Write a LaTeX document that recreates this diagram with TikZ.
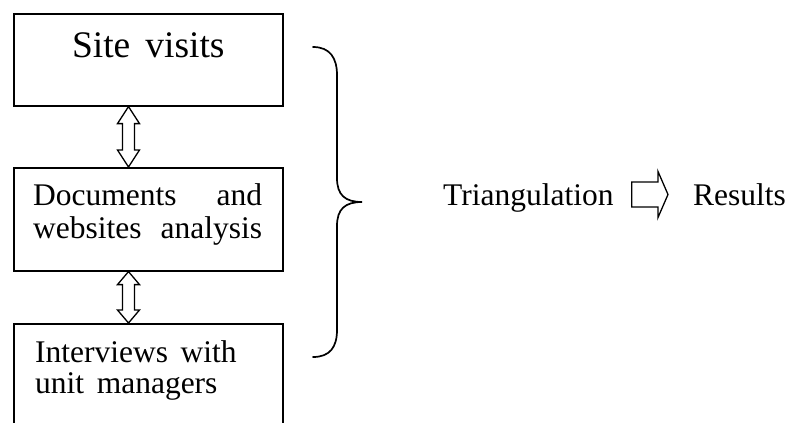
\documentclass[tikz,border=0pt]{standalone}
\usepackage{fontspec}
\setmainfont{Liberation Serif}
\usetikzlibrary{calc}

% wider interword spacing used in the box texts
\newcommand\widesp{\spaceskip=0.4em\relax}

% hollow double-headed vertical arrow: #1 upper tip, #2 lower tip, #3 head length
\newcommand\vdoublearrow[3]{%
  \draw[hollow] (#1) -- ($(#1)+(11,#3)$) -- ($(#1)+(6,#3)$)
    -- ($(#2)+(6,-#3)$) -- ($(#2)+(11,-#3)$) -- (#2)
    -- ($(#2)+(-11,-#3)$) -- ($(#2)+(-6,-#3)$)
    -- ($(#1)+(-6,#3)$) -- ($(#1)+(-11,#3)$) -- cycle;}

\begin{document}
\begin{tikzpicture}[x=1pt,y=-1pt,
  box/.style={draw, line width=1.6pt, minimum width=269pt, minimum height=#1,
    inner sep=0pt, anchor=north west},
  body/.style={font=\fontsize{31.5}{33}\selectfont, inner sep=0pt, anchor=base west},
  big/.style={font=\fontsize{37.5}{40}\selectfont, inner sep=0pt, anchor=base},
  hollow/.style={draw, line width=1.3pt, line join=miter, fill=white},
  bracepath/.style={draw, line width=1.7pt, line cap=round}]
\useasboundingbox (0,0) rectangle (790,423);
\clip (0,0) rectangle (790,423);

% three stacked boxes
\node[box=92pt]  (site) at (13,13)  {};
\node[box=103pt] (docs) at (13,167) {};
\node[box=130pt] (intv) at (13,323) {};

% box texts
\node[big] (sitet) at ($(site.north)+(0,44)$) {\widesp Site visits};
\node[body] (doct) at ($(docs.north west)+(20,38)$)
  {\parbox[t]{229pt}{\baselineskip=33pt
    \makebox[229pt][s]{Documents and}\\\makebox[229pt][s]{websites analysis}}};
\node[body] (intvt) at ($(intv.north west)+(22,39)$)
  {\parbox[t]{229pt}{\widesp\baselineskip=31pt Interviews with\\unit managers}};

% double arrows between the boxes
\coordinate (ax) at (128.5,0);
\coordinate (a1t) at (site.south -| ax);
\coordinate (a1b) at (docs.north -| ax);
\coordinate (a2t) at (docs.south -| ax);
\coordinate (a2b) at (intv.north -| ax);
\vdoublearrow{a1t}{a1b}{17}
\vdoublearrow{a2t}{a2b}{13}

% right curly brace grouping the three sources
\path[bracepath] (313,47) .. controls (330,47) and (337,58) .. (337,75)
  -- (337,178) .. controls (337,195) and (345,202) .. (362,202)
  .. controls (345,202) and (337,209) .. (337,226)
  -- (337,330) .. controls (337,347) and (330,357) .. (313,357);

% triangulation leads to results
\node[body] (tri) at (443,205) {Triangulation};
\node[body] (res) at (693,205) {Results};
\coordinate (rt) at ($(tri.base east)+(18,-10.5)$);
\coordinate (tip) at ($(res.base west)+(-25,-10.5)$);
\draw[hollow] (rt) -- ($(rt)+(0,-12.5)$) -- ($(tip)+(-10,-12.5)$)
  -- ($(tip)+(-10,-23)$) -- (tip) -- ($(tip)+(-10,23)$)
  -- ($(tip)+(-10,12.5)$) -- ($(rt)+(0,12.5)$) -- cycle;
\end{tikzpicture}
\end{document}
